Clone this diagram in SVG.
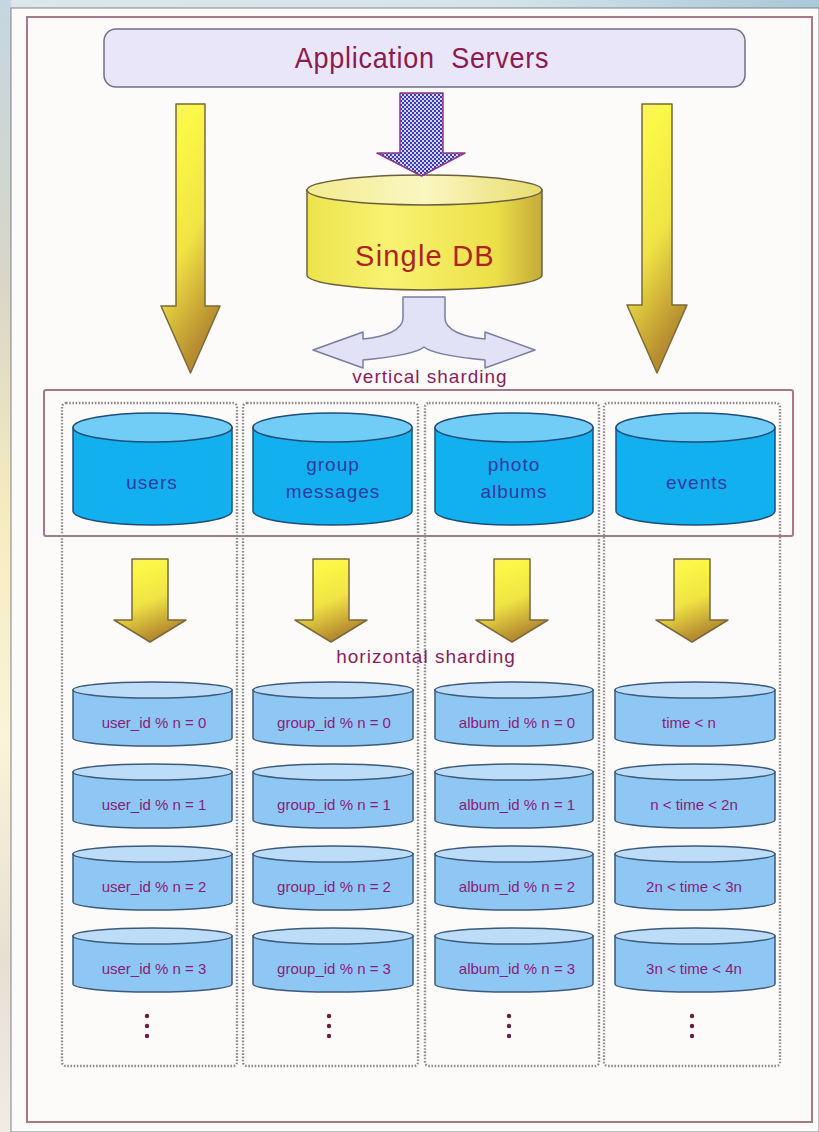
<svg xmlns="http://www.w3.org/2000/svg" width="819" height="1132" viewBox="0 0 819 1132">
  <defs>
    <style>
      .frame { fill: none; stroke: #a47a8a; stroke-width: 2; }
      .col { fill: none; stroke: #8e8e8e; stroke-width: 2.4; stroke-dasharray: 1.6 1.6; }
      .gold { fill: url(#goldGrad); stroke: #7a6a3a; stroke-width: 1.5; stroke-linejoin: round; }
      .bigcyl { fill: #12b0ee; stroke: #1e4e78; stroke-width: 1.5; }
      .bigtop { fill: #72cdf6; stroke: #1e4e78; stroke-width: 1.5; }
      .cyl { fill: #8fc7f4; stroke: #3c5a7a; stroke-width: 1.5; }
      .cyltop { fill: #bddcf8; stroke: #3c5a7a; stroke-width: 1.5; }
      .lbl { font-family: "Liberation Sans", Arial, sans-serif; font-size: 19px; letter-spacing: 1px; fill: #2f3aa0; text-anchor: middle; }
      .slbl { font-family: "Liberation Sans", Arial, sans-serif; font-size: 15px; fill: #8a1c78; text-anchor: middle; }
      .cap { font-family: "Liberation Sans", Arial, sans-serif; font-size: 19px; letter-spacing: 1px; fill: #8a1f5c; text-anchor: middle; }
      .dot { fill: #6a1e3e; }
    </style>
    <linearGradient id="goldGrad" x1="0" y1="0" x2="0.35" y2="1">
      <stop offset="0" stop-color="#f4ee78"/>
      <stop offset="0.2" stop-color="#fbf846"/>
      <stop offset="0.6" stop-color="#f0e444"/>
      <stop offset="1" stop-color="#b68c30"/>
    </linearGradient>
    <linearGradient id="dbBody" x1="0" y1="0" x2="1" y2="0">
      <stop offset="0" stop-color="#ece44c"/>
      <stop offset="0.35" stop-color="#f8f272"/>
      <stop offset="0.8" stop-color="#ece048"/>
      <stop offset="1" stop-color="#c4aa3a"/>
    </linearGradient>
    <linearGradient id="dbTop" x1="0" y1="0" x2="1" y2="0">
      <stop offset="0" stop-color="#f2ec90"/>
      <stop offset="0.5" stop-color="#faf7c0"/>
      <stop offset="1" stop-color="#e8dc70"/>
    </linearGradient>
    <linearGradient id="sideStrip" x1="0" y1="0" x2="0" y2="1">
      <stop offset="0" stop-color="#c6d6e0"/>
      <stop offset="0.25" stop-color="#d8d6c8"/>
      <stop offset="0.45" stop-color="#f4ecc0"/>
      <stop offset="0.65" stop-color="#faf4d8"/>
      <stop offset="0.85" stop-color="#e6e0d4"/>
      <stop offset="1" stop-color="#f0ece4"/>
    </linearGradient>
    <linearGradient id="topStrip" x1="0" y1="0" x2="1" y2="0">
      <stop offset="0" stop-color="#dde6ea"/>
      <stop offset="0.6" stop-color="#d6e4ea"/>
      <stop offset="1" stop-color="#a9c8d8"/>
    </linearGradient>
    <pattern id="checks" width="4" height="4" patternUnits="userSpaceOnUse">
      <rect width="4" height="4" fill="#d4d4f6"/>
      <rect width="2" height="2" fill="#3c3cb0"/>
      <rect x="2" y="2" width="2" height="2" fill="#3c3cb0"/>
    </pattern>
  </defs>

  <!-- page surround -->
  <rect x="0" y="0" width="819" height="1132" fill="url(#topStrip)"/>
  <rect x="0" y="0" width="11" height="1132" fill="url(#sideStrip)"/>
  <rect x="11" y="8" width="808" height="1124" fill="#fdfafa" stroke="#7c848a" stroke-width="1"/>
  <rect class="frame" x="27" y="17" width="785" height="1105"/>

  <!-- application servers -->
  <g id="app-servers">
    <rect x="104" y="29" width="641" height="58" rx="12" fill="#e8e6f8" stroke="#707084" stroke-width="1.5"/>
    <text transform="translate(422 68) scale(0.9 1)" x="0" y="0" font-family="Liberation Sans, Arial, sans-serif" font-size="30" letter-spacing="0.8" fill="#8c1a50" text-anchor="middle">Application&#160; Servers</text>
  </g>

  <!-- single database -->
  <g id="single-db">
    <path d="M307,190 V275 A117.5,15 0 0 0 542,275 V190 Z" fill="url(#dbBody)" stroke="#6a6040" stroke-width="1.5"/>
    <ellipse cx="424.5" cy="190" rx="117.5" ry="15" fill="url(#dbTop)" stroke="#6a6040" stroke-width="1.5"/>
    <text x="425" y="266" font-family="Liberation Sans, Arial, sans-serif" font-size="29" letter-spacing="1.2" fill="#b02222" text-anchor="middle">Single DB</text>
  </g>

  <!-- vertical sharding frame -->
  <g id="vertical-sharding">
    <rect class="frame" x="44" y="390" width="749" height="146" rx="2"/>
    <text class="cap" x="430" y="383">vertical sharding</text>
  </g>

  <!-- shard columns -->
  <g id="columns">
    <rect class="col" x="62" y="403" width="175" height="663" rx="4"/>
    <rect class="col" x="243" y="403" width="175" height="663" rx="4"/>
    <rect class="col" x="425" y="403" width="174" height="663" rx="4"/>
    <rect class="col" x="604" y="403" width="176" height="663" rx="4"/>
  </g>

  <!-- connectors -->
  <g id="connectors">
    <path class="gold" d="M176,104 H205 V306 H220 L190.5,373 L161,306 H176 Z"/>
    <path class="gold" d="M642,104 H672 V305 H687 L657,373 L627,305 H642 Z"/>
    <path d="M400,93 H443 V153 H465 L421.5,176 L377,153 H400 Z" fill="url(#checks)" stroke="#8a3a8a" stroke-width="1.5" stroke-linejoin="round"/>
    <path d="M403,297 V318 C403,330 385,337 363,339 V332 L313,350 L363,368 V360 C395,357 418,352 424,347 C430,352 453,357 485,360 V368 L535,350 L485,332 V339 C463,337 445,330 445,318 V297 Z" fill="#e2e2f6" stroke="#7c7ca0" stroke-width="1.5" stroke-linejoin="round"/>
    <path class="gold" d="M132,559 H168 V620 H186 L150,642 L114,620 H132 Z"/>
    <path class="gold" d="M313,559 H349 V620 H367 L331,642 L295,620 H313 Z"/>
    <path class="gold" d="M494,559 H530 V620 H548 L512,642 L476,620 H494 Z"/>
    <path class="gold" d="M674,559 H710 V620 H728 L692,642 L656,620 H674 Z"/>
  </g>

  <text class="cap" x="426" y="663">horizontal sharding</text>

  <!-- functional partitions -->
  <g id="users">
    <path class="bigcyl" d="M73,427.5 V511 A79.5,14 0 0 0 232,511 V427.5 Z"/>
    <ellipse class="bigtop" cx="152.5" cy="427.5" rx="79.5" ry="14.5"/>
    <text class="lbl" x="152" y="489">users</text>
  </g>
  <g id="group-messages">
    <path class="bigcyl" d="M253,427.5 V511 A79.5,14 0 0 0 412,511 V427.5 Z"/>
    <ellipse class="bigtop" cx="332.5" cy="427.5" rx="79.5" ry="14.5"/>
    <text class="lbl" x="333" y="471">group</text>
    <text class="lbl" x="333" y="498">messages</text>
  </g>
  <g id="photo-albums">
    <path class="bigcyl" d="M435,427.5 V511 A79,14 0 0 0 593,511 V427.5 Z"/>
    <ellipse class="bigtop" cx="514" cy="427.5" rx="79" ry="14.5"/>
    <text class="lbl" x="514" y="471">photo</text>
    <text class="lbl" x="514" y="498">albums</text>
  </g>
  <g id="events">
    <path class="bigcyl" d="M616,427.5 V511 A79.5,14 0 0 0 775,511 V427.5 Z"/>
    <ellipse class="bigtop" cx="695.5" cy="427.5" rx="79.5" ry="14.5"/>
    <text class="lbl" x="697" y="489">events</text>
  </g>

  <!-- users shards -->
  <g id="users-0"><path class="cyl" d="M73,690 V738 A79.5,8 0 0 0 232,738 V690 Z"/><ellipse class="cyltop" cx="152.5" cy="690" rx="79.5" ry="8"/><text class="slbl" x="154" y="728">user_id % n = 0</text></g>
  <g id="users-1"><path class="cyl" d="M73,772 V820 A79.5,8 0 0 0 232,820 V772 Z"/><ellipse class="cyltop" cx="152.5" cy="772" rx="79.5" ry="8"/><text class="slbl" x="154" y="810">user_id % n = 1</text></g>
  <g id="users-2"><path class="cyl" d="M73,854 V902 A79.5,8 0 0 0 232,902 V854 Z"/><ellipse class="cyltop" cx="152.5" cy="854" rx="79.5" ry="8"/><text class="slbl" x="154" y="892">user_id % n = 2</text></g>
  <g id="users-3"><path class="cyl" d="M73,936 V984 A79.5,8 0 0 0 232,984 V936 Z"/><ellipse class="cyltop" cx="152.5" cy="936" rx="79.5" ry="8"/><text class="slbl" x="154" y="974">user_id % n = 3</text></g>

  <!-- group message shards -->
  <g id="group-0"><path class="cyl" d="M253,690 V738 A80,8 0 0 0 413,738 V690 Z"/><ellipse class="cyltop" cx="333" cy="690" rx="80" ry="8"/><text class="slbl" x="334" y="728">group_id % n = 0</text></g>
  <g id="group-1"><path class="cyl" d="M253,772 V820 A80,8 0 0 0 413,820 V772 Z"/><ellipse class="cyltop" cx="333" cy="772" rx="80" ry="8"/><text class="slbl" x="334" y="810">group_id % n = 1</text></g>
  <g id="group-2"><path class="cyl" d="M253,854 V902 A80,8 0 0 0 413,902 V854 Z"/><ellipse class="cyltop" cx="333" cy="854" rx="80" ry="8"/><text class="slbl" x="334" y="892">group_id % n = 2</text></g>
  <g id="group-3"><path class="cyl" d="M253,936 V984 A80,8 0 0 0 413,984 V936 Z"/><ellipse class="cyltop" cx="333" cy="936" rx="80" ry="8"/><text class="slbl" x="334" y="974">group_id % n = 3</text></g>

  <!-- photo album shards -->
  <g id="album-0"><path class="cyl" d="M435,690 V738 A79,8 0 0 0 593,738 V690 Z"/><ellipse class="cyltop" cx="514" cy="690" rx="79" ry="8"/><text class="slbl" x="517" y="728">album_id % n = 0</text></g>
  <g id="album-1"><path class="cyl" d="M435,772 V820 A79,8 0 0 0 593,820 V772 Z"/><ellipse class="cyltop" cx="514" cy="772" rx="79" ry="8"/><text class="slbl" x="517" y="810">album_id % n = 1</text></g>
  <g id="album-2"><path class="cyl" d="M435,854 V902 A79,8 0 0 0 593,902 V854 Z"/><ellipse class="cyltop" cx="514" cy="854" rx="79" ry="8"/><text class="slbl" x="517" y="892">album_id % n = 2</text></g>
  <g id="album-3"><path class="cyl" d="M435,936 V984 A79,8 0 0 0 593,984 V936 Z"/><ellipse class="cyltop" cx="514" cy="936" rx="79" ry="8"/><text class="slbl" x="517" y="974">album_id % n = 3</text></g>

  <!-- event shards -->
  <g id="events-0"><path class="cyl" d="M615,690 V738 A80,8 0 0 0 775,738 V690 Z"/><ellipse class="cyltop" cx="695" cy="690" rx="80" ry="8"/><text class="slbl" x="689" y="728">time &lt; n</text></g>
  <g id="events-1"><path class="cyl" d="M615,772 V820 A80,8 0 0 0 775,820 V772 Z"/><ellipse class="cyltop" cx="695" cy="772" rx="80" ry="8"/><text class="slbl" x="694" y="810">n &lt; time &lt; 2n</text></g>
  <g id="events-2"><path class="cyl" d="M615,854 V902 A80,8 0 0 0 775,902 V854 Z"/><ellipse class="cyltop" cx="695" cy="854" rx="80" ry="8"/><text class="slbl" x="694" y="892">2n &lt; time &lt; 3n</text></g>
  <g id="events-3"><path class="cyl" d="M615,936 V984 A80,8 0 0 0 775,984 V936 Z"/><ellipse class="cyltop" cx="695" cy="936" rx="80" ry="8"/><text class="slbl" x="694" y="974">3n &lt; time &lt; 4n</text></g>

  <!-- continuation marks -->
  <g id="more">
    <circle class="dot" cx="147" cy="1016" r="2.2"/><circle class="dot" cx="147" cy="1026" r="2.2"/><circle class="dot" cx="147" cy="1036" r="2.2"/>
    <circle class="dot" cx="329" cy="1016" r="2.2"/><circle class="dot" cx="329" cy="1026" r="2.2"/><circle class="dot" cx="329" cy="1036" r="2.2"/>
    <circle class="dot" cx="509" cy="1016" r="2.2"/><circle class="dot" cx="509" cy="1026" r="2.2"/><circle class="dot" cx="509" cy="1036" r="2.2"/>
    <circle class="dot" cx="692" cy="1016" r="2.2"/><circle class="dot" cx="692" cy="1026" r="2.2"/><circle class="dot" cx="692" cy="1036" r="2.2"/>
  </g>
</svg>
